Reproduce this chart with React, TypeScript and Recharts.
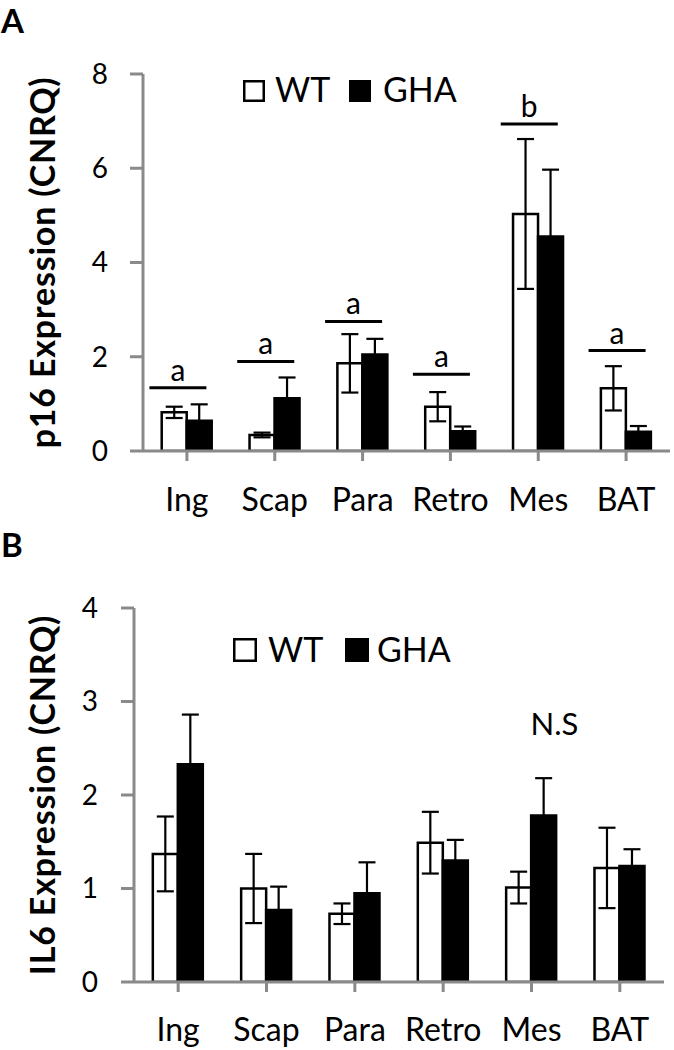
import React from 'react';
import { ComposedChart, Bar, XAxis, YAxis, ErrorBar, Scatter, Legend } from 'recharts';

const FONT = 'Lato, "Open Sans", sans-serif';
const AXIS = '#8a8a8a';

const categories = ['Ing', 'Scap', 'Para', 'Retro', 'Mes', 'BAT'];

// Panel A: p16
const p16WT = [0.82, 0.34, 1.86, 0.94, 5.03, 1.33];
const p16WTErr = [0.12, 0.05, 0.62, 0.31, 1.59, 0.47];
const p16GHA = [0.64, 1.12, 2.05, 0.42, 4.55, 0.41];
const p16GHAErr = [0.35, 0.44, 0.33, 0.1, 1.42, 0.12];
const p16SigLevel = [1.34, 1.9, 2.75, 1.63, 6.94, 2.13];
const p16SigLabel = ['a', 'a', 'a', 'a', 'b', 'a'];
const p16Ticks = [0, 2, 4, 6, 8];

// Panel B: IL6
const il6WT = [1.37, 1.0, 0.73, 1.49, 1.01, 1.22];
const il6WTErr = [0.4, 0.37, 0.11, 0.33, 0.17, 0.43];
const il6GHA = [2.33, 0.77, 0.95, 1.3, 1.78, 1.24];
const il6GHAErr = [0.53, 0.25, 0.33, 0.22, 0.4, 0.18];
const il6NoteLevel = [null, null, null, null, 2.64, null];
const il6NoteLabel = ['', '', '', '', 'N.S', ''];
const il6Ticks = [0, 1, 2, 3, 4];

const p16Data = categories.map((c, i) => ({
  cat: c,
  wt: p16WT[i],
  wtErr: p16WTErr[i],
  gha: p16GHA[i],
  ghaErr: p16GHAErr[i],
  mark: p16SigLevel[i],
  markLabel: p16SigLabel[i],
}));

const il6Data = categories.map((c, i) => ({
  cat: c,
  wt: il6WT[i],
  wtErr: il6WTErr[i],
  gha: il6GHA[i],
  ghaErr: il6GHAErr[i],
  mark: il6NoteLevel[i],
  markLabel: il6NoteLabel[i],
}));

function SigShape(props: any) {
  const { cx, cy, payload } = props;
  if (cx == null || cy == null || payload == null || payload.mark == null) return <g />;
  const c = cx - 9;
  return (
    <g>
      <line x1={c - 28.5} x2={c + 28.5} y1={cy} y2={cy} stroke="#000" strokeWidth={3} />
      <text x={c} y={cy - 7} textAnchor="middle" fontFamily={FONT} fontSize={30} fill="#000">
        {payload.markLabel}
      </text>
    </g>
  );
}

function NoteShape(props: any) {
  const { cx, cy, payload } = props;
  if (cx == null || cy == null || payload == null || payload.mark == null) return <g />;
  return (
    <text x={cx + 23} y={cy} textAnchor="middle" fontFamily={FONT} fontSize={31} fill="#000">
      {payload.markLabel}
    </text>
  );
}

function makeLegend(sq: number, textX: number, ghaX: number, ghaTextX: number) {
  return () => (
    <svg width={240} height={sq + 6} style={{ display: 'block', overflow: 'visible' }}>
      <rect x={1.25} y={1.25} width={sq - 2.5} height={sq - 2.5} fill="#fff" stroke="#000" strokeWidth={2.5} />
      <text x={textX} y={sq} fontSize={34} fontFamily={FONT} fill="#000">WT</text>
      <rect x={ghaX} y={0} width={sq} height={sq} fill="#000" />
      <text x={ghaTextX} y={sq} fontSize={34} fontFamily={FONT} fill="#000">GHA</text>
    </svg>
  );
}

function makeYLabel(text: string, baselineX: number, fallbackCy: number) {
  return (props: any) => {
    const vb = props && props.viewBox;
    const cy = vb && vb.height != null ? vb.y + vb.height / 2 : fallbackCy;
    return (
      <text
        x={baselineX}
        y={cy}
        transform={`rotate(-90 ${baselineX} ${cy})`}
        textAnchor="middle"
        fontSize={34}
        fontWeight={700}
        fontFamily={FONT}
        letterSpacing={0.8}
        fill="#000"
      >
        {text}
      </text>
    );
  };
}

type PanelProps = {
  data: any[];
  height: number;
  margin: { top: number; right: number; bottom: number; left: number };
  yWidth: number;
  domainMax: number;
  ticks: number[];
  yLabel: string;
  yLabelX: number;
  yTickMargin: number;
  xTickMargin: number;
  legend: () => React.ReactElement;
  legendLeft: number;
  legendTop: number;
  markShape: (p: any) => React.ReactElement;
};

function Panel(p: PanelProps) {
  const plotH = p.height - p.margin.top - p.margin.bottom - 60;
  return (
    <ComposedChart
      width={674}
      height={p.height}
      data={p.data}
      margin={p.margin}
      barCategoryGap="21.3%"
      barGap={0}
    >
      <XAxis
        dataKey="cat"
        height={60}
        axisLine={{ stroke: AXIS, strokeWidth: 3 }}
        tickLine={{ stroke: AXIS, strokeWidth: 3 }}
        tickSize={10}
        tickMargin={p.xTickMargin}
        tick={{ fill: '#000', fontSize: 32, fontFamily: FONT }}
        interval={0}
      />
      <YAxis
        width={p.yWidth}
        domain={[0, p.domainMax]}
        ticks={p.ticks}
        allowDataOverflow
        axisLine={{ stroke: AXIS, strokeWidth: 3 }}
        tickLine={{ stroke: AXIS, strokeWidth: 3 }}
        tickSize={13}
        tickMargin={p.yTickMargin}
        tick={{ fill: '#000', fontSize: 28, fontFamily: FONT }}
        label={makeYLabel(p.yLabel, p.yLabelX, p.margin.top + plotH / 2)}
      />
      <Legend
        layout="vertical"
        align="center"
        verticalAlign="middle"
        wrapperStyle={{ left: p.legendLeft, top: p.legendTop, width: 240, height: 30 }}
        content={p.legend}
      />
      <Bar dataKey="wt" fill="#fff" stroke="#000" strokeWidth={2.5} isAnimationActive={false}>
        <ErrorBar dataKey="wtErr" width={8.5} stroke="#000" strokeWidth={2.2} />
      </Bar>
      <Bar dataKey="gha" fill="#000" stroke="#000" strokeWidth={2.5} isAnimationActive={false}>
        <ErrorBar dataKey="ghaErr" width={8.5} stroke="#000" strokeWidth={2.2} />
      </Bar>
      <Scatter dataKey="mark" shape={p.markShape} isAnimationActive={false} legendType="none" />
    </ComposedChart>
  );
}

export default function App() {
  return (
    <div style={{ position: 'absolute', left: 0, top: 0, width: 674, height: 1050, background: '#fff' }}>
      <div style={{ position: 'absolute', left: 0, top: 0 }}>
        <Panel
          data={p16Data}
          height={520}
          margin={{ top: 74, right: 4, bottom: 9, left: 0 }}
          yWidth={143}
          domainMax={8}
          ticks={p16Ticks}
          yLabel="p16 Expression (CNRQ)"
          yLabelX={55}
          yTickMargin={22}
          xTickMargin={27}
          legend={makeLegend(22, 32, 106, 140)}
          legendLeft={243}
          legendTop={80}
          markShape={SigShape}
        />
      </div>
      <div style={{ position: 'absolute', left: 0, top: 520 }}>
        <Panel
          data={il6Data}
          height={530}
          margin={{ top: 88, right: 10, bottom: 8, left: 0 }}
          yWidth={134}
          domainMax={4}
          ticks={il6Ticks}
          yLabel="IL6 Expression (CNRQ)"
          yLabelX={55}
          yTickMargin={23}
          xTickMargin={26}
          legend={makeLegend(24, 35, 112, 144)}
          legendLeft={233}
          legendTop={118}
          markShape={NoteShape}
        />
      </div>
      <svg
        width={674}
        height={1050}
        style={{ position: 'absolute', left: 0, top: 0, pointerEvents: 'none' }}
      >
        <text x={1} y={33} fontSize={33} fontWeight={700} fontFamily={FONT} fill="#000">A</text>
        <text x={1} y={557} fontSize={33} fontWeight={700} fontFamily={FONT} fill="#000">B</text>
      </svg>
    </div>
  );
}
